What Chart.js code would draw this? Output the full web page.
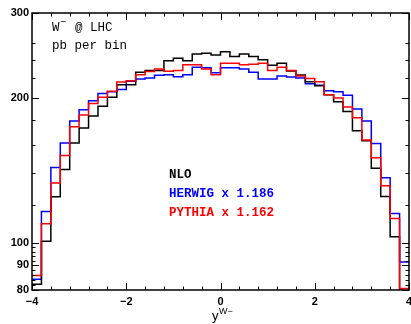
<!DOCTYPE html>
<html>
<head>
<meta charset="utf-8">
<script src="https://cdn.jsdelivr.net/npm/chart.js@4.4.1/dist/chart.umd.min.js"></script>
<style>
  html, body { margin: 0; padding: 0; background: #fff; }
  #wrap { width: 411px; height: 324px; }
</style>
</head>
<body>
<div id="wrap"><canvas id="rapChart" width="411" height="324"></canvas></div>
<script>
// bins of 0.2 in rapidity, from -4 to 4
const binLow = -4;
const binWidth = 0.2;

const nloValues = [
  82.2, 101, 124.8, 142.2, 161.3, 173.3, 183.6, 192.2, 200.6, 213,
  213, 226, 228, 228, 239, 241.7, 239, 246.8, 247.5, 245.6,
  249.5, 243.7, 246.8, 243.7, 240, 233.7, 236, 227.5, 223.3, 216,
  212, 203, 196.5, 187.4, 171, 163, 143, 125, 103.2, 78
];
const herwigValues = [
  84.2, 116.3, 143.6, 161.3, 179.2, 189.1, 197.4, 204.4, 206.1, 208.3,
  216.5, 219, 220, 223, 223.5, 221.4, 223.5, 231.5, 231, 225.5,
  231, 231, 229.7, 226, 219, 219, 222, 221, 220, 214,
  212.6, 207, 206, 202.5, 189.7, 179.2, 161, 136.7, 115.2, 91.4
];
const pythiaValues = [
  85.7, 109.8, 133.3, 152, 174.4, 184.4, 194.9, 200.6, 206.4, 215.9,
  217.2, 223.5, 227, 229.7, 227.1, 227.9, 234.4, 234.4, 229.7, 223.5,
  236, 236, 234.4, 235, 236, 227.9, 231.5, 228, 222, 219.5,
  216, 203, 200, 191.5, 182, 163.6, 150.4, 131.6, 112.5, 80.6
];

const xTickLabels = [-4, -2, 0, 2, 4];
const xMinorTicks = [-3.6, -3.2, -2.8, -2.4, -1.6, -1.2, -0.8, -0.4, 0.4, 0.8, 1.2, 1.6, 2.4, 2.8, 3.2, 3.6];
const yTickLabels = [80, 90, 100, 200, 300];
const yMinorTicks = [82, 84, 86, 88, 92, 94, 96, 98, 120, 140, 160, 180, 220, 240, 260];

/**
 * Turn per-bin values into step points at the bin edges
 */
function toSteps(values) {
  const pts = values.map((v, i) => ({ x: binLow + i * binWidth, y: v }));
  pts.push({ x: binLow + values.length * binWidth, y: values[values.length - 1] });
  return pts;
}

function histLine(label, values, color) {
  return {
    label: label,
    data: toSteps(values),
    stepped: "before",
    borderColor: color,
    borderWidth: 1.5,
    pointRadius: 0,
    fill: false,
  };
}

const axisFont = { family: "Liberation Sans", size: 11, weight: "bold" };
const monoFont = "12.5px 'Liberation Mono'";
const legendFont = "bold 12.5px 'Liberation Mono'";

// box frame with inward ticks on all four sides
const frameTicks = {
  id: "frameTicks",
  afterDatasetsDraw(chart) {
    const { ctx, chartArea: a, scales: { x, y } } = chart;
    ctx.save();
    ctx.strokeStyle = "#000";
    ctx.lineWidth = 1.5;
    ctx.strokeRect(a.left, a.top, a.right - a.left, a.bottom - a.top);
    ctx.lineWidth = 1;
    ctx.beginPath();
    const xTick = (v, len) => {
      const px = Math.round(x.getPixelForValue(v)) + 0.5;
      ctx.moveTo(px, a.bottom); ctx.lineTo(px, a.bottom - len);
      ctx.moveTo(px, a.top); ctx.lineTo(px, a.top + len);
    };
    const yTick = (v, len) => {
      const py = Math.round(y.getPixelForValue(v)) + 0.5;
      ctx.moveTo(a.left, py); ctx.lineTo(a.left + len, py);
      ctx.moveTo(a.right, py); ctx.lineTo(a.right - len, py);
    };
    xTickLabels.forEach((v) => xTick(v, 7));
    xMinorTicks.forEach((v) => xTick(v, 3.5));
    yTickLabels.forEach((v) => yTick(v, 7));
    yMinorTicks.forEach((v) => yTick(v, 3.5));
    ctx.stroke();
    ctx.restore();
  },
};

// annotations: process label, units, legend and axis title
const plotText = {
  id: "plotText",
  afterDraw(chart) {
    const { ctx } = chart;
    ctx.save();
    ctx.textBaseline = "alphabetic";
    ctx.textAlign = "left";
    ctx.fillStyle = "#000";
    ctx.font = monoFont;
    ctx.fillText("W", 52, 31);
    ctx.font = "10px 'Liberation Mono'";
    ctx.fillText("\u2212", 60, 25);
    ctx.font = monoFont;
    ctx.fillText("@ LHC", 75, 31);
    ctx.fillText("pb per bin", 52, 49);

    ctx.font = legendFont;
    ctx.fillStyle = "#000";
    ctx.fillText("NLO", 169, 178);
    ctx.fillStyle = "#0000ff";
    ctx.fillText("HERWIG x 1.186", 169, 197);
    ctx.fillStyle = "#ff0000";
    ctx.fillText("PYTHIA x 1.162", 169, 216);

    ctx.fillStyle = "#000";
    ctx.font = "13px 'Liberation Sans'";
    ctx.fillText("y", 212, 320);
    ctx.font = "9px 'Liberation Sans'";
    ctx.fillText("W\u2212", 219, 314);
    ctx.restore();
  },
};

const chart = new Chart(document.getElementById("rapChart").getContext("2d"), {
  type: "line",
  data: {
    datasets: [
      histLine("PYTHIA x 1.162", pythiaValues, "#ff0000"),
      histLine("NLO", nloValues, "#000000"),
      histLine("HERWIG x 1.186", herwigValues, "#0000ff"),
    ],
  },
  options: {
    responsive: false,
    devicePixelRatio: 1,
    animation: false,
    layout: { padding: { top: 13, right: 2, left: 0, bottom: 0 } },
    plugins: {
      legend: { display: false },
      tooltip: { enabled: false },
    },
    scales: {
      x: {
        type: "linear",
        min: -4,
        max: 4,
        afterBuildTicks: (scale) => {
          scale.ticks = xTickLabels.map((v) => ({ value: v }));
        },
        afterFit: (scale) => {
          scale.height = 34;
          scale.paddingLeft = 0;
          scale.paddingRight = 0;
        },
        grid: { display: false, drawTicks: false },
        border: { display: false },
        ticks: {
          color: "#000",
          font: axisFont,
          padding: 5,
          maxRotation: 0,
          autoSkip: false,
          callback: (v) => (v < 0 ? "\u2212" + Math.abs(v) : String(v)),
        },
      },
      y: {
        type: "logarithmic",
        min: 80,
        max: 300,
        afterBuildTicks: (scale) => {
          scale.ticks = yTickLabels.map((v) => ({ value: v }));
        },
        afterFit: (scale) => {
          scale.width = 32;
          scale.paddingTop = 0;
          scale.paddingBottom = 0;
        },
        grid: { display: false, drawTicks: false },
        border: { display: false },
        ticks: {
          color: "#000",
          font: axisFont,
          padding: 3,
          autoSkip: false,
          callback: (v) => String(v),
        },
      },
    },
  },
  plugins: [frameTicks, plotText],
});
</script>
</body>
</html>
